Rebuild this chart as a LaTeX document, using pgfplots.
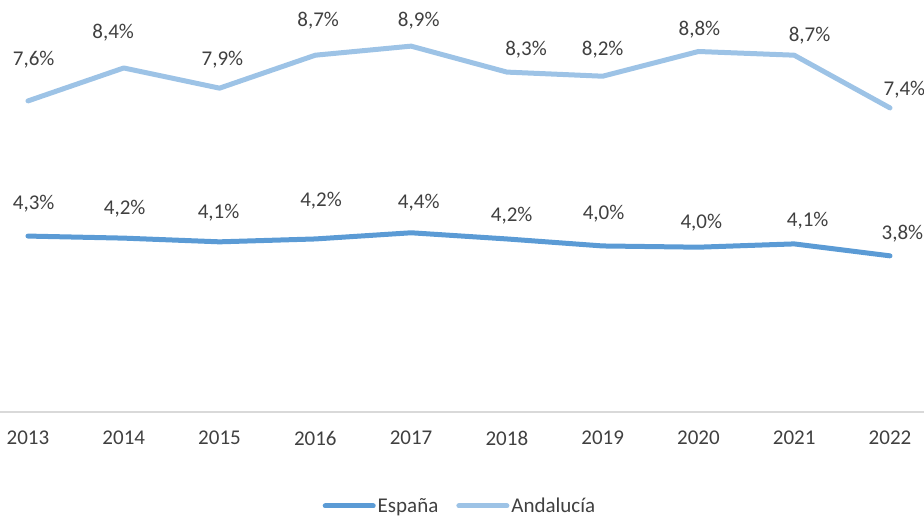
\documentclass[border=0pt]{standalone}
\usepackage{pgfplots}
\pgfplotsset{compat=1.18}
\usepackage{fontspec}
\setmainfont{Carlito}
\definecolor{esp}{HTML}{5B9BD5}
\definecolor{and}{HTML}{9DC3E6}
\definecolor{txt}{HTML}{404040}
\definecolor{axgray}{HTML}{D9D9D9}
\begin{document}
\begin{tikzpicture}
\begin{axis}[
  name=ax,
  at={(0,0)}, anchor=south west,
  scale only axis, width=924pt, height=412pt,
  xmin=-0.292, xmax=9.355, ymin=0, ymax=10,
  clip=false,
  axis x line*=bottom, axis y line=none,
  x axis line style={draw=axgray, line width=2pt, -},
  xtick={0,...,9},
  xticklabels={2013,2014,2015,2016,2017,2018,2019,2020,2021,2022},
  major tick length=0pt,
  /pgf/number format/assume math mode=true,
  xticklabel style={anchor=center, yshift=-26pt, font=\fontsize{21}{25}\selectfont, text=txt},
  legend style={at={(0.5,0)}, anchor=center, yshift=-94pt, xshift=-2pt, draw=none, fill=none,
    legend columns=-1, font=\fontsize{21}{25}\selectfont, text=txt,
    /tikz/every even column/.append style={column sep=16pt},
    nodes={inner xsep=2pt, inner ysep=1pt}},
  legend image code/.code={\draw[#1, line cap=round] (0pt,0pt) -- (48pt,0pt);},
]
\addplot[esp, line width=5pt, line join=round, line cap=round] coordinates {
 (0,4.27) (1,4.22) (2,4.13) (3,4.20) (4,4.35) (5,4.20) (6,4.03) (7,4.00) (8,4.08) (9,3.79)};
\addlegendentry{España}
\addplot[and, line width=5pt, line join=round, line cap=round] coordinates {
 (0,7.55) (1,8.35) (2,7.86) (3,8.66) (4,8.88) (5,8.25) (6,8.15) (7,8.75) (8,8.66) (9,7.38)};
\addlegendentry{Andalucía}
% data labels
\addplot[draw=none, mark=none, forget plot, nodes near coords, point meta=explicit symbolic,
  nodes near coords style={anchor=center, font=\fontsize{21}{25}\selectfont, text=txt}]
  table[meta=label] {
x y label
0.06 5.05 4,3\%
1.01 4.93 4,2\%
1.99 4.83 4,1\%
3.06 5.12 4,2\%
4.08 5.07 4,4\%
5.05 4.76 4,2\%
6.01 4.81 4,0\%
7.03 4.59 4,0\%
8.14 4.64 4,1\%
9.13 4.34 3,8\%
};
\addplot[draw=none, mark=none, forget plot, nodes near coords, point meta=explicit symbolic,
  nodes near coords style={anchor=center, font=\fontsize{21}{25}\selectfont, text=txt}]
  table[meta=label] {
x y label
0.06 8.54 7,6\%
0.89 9.20 8,4\%
2.03 8.54 7,9\%
3.03 9.51 8,7\%
4.08 9.49 8,9\%
5.20 8.79 8,3\%
6.00 8.79 8,2\%
7.01 9.27 8,8\%
8.16 9.13 8,7\%
9.15 7.82 7,4\%
};
\end{axis}
\pgfresetboundingbox
\path[use as bounding box] ([yshift=-106pt]ax.south west) rectangle (ax.north east);
\end{tikzpicture}
\end{document}
